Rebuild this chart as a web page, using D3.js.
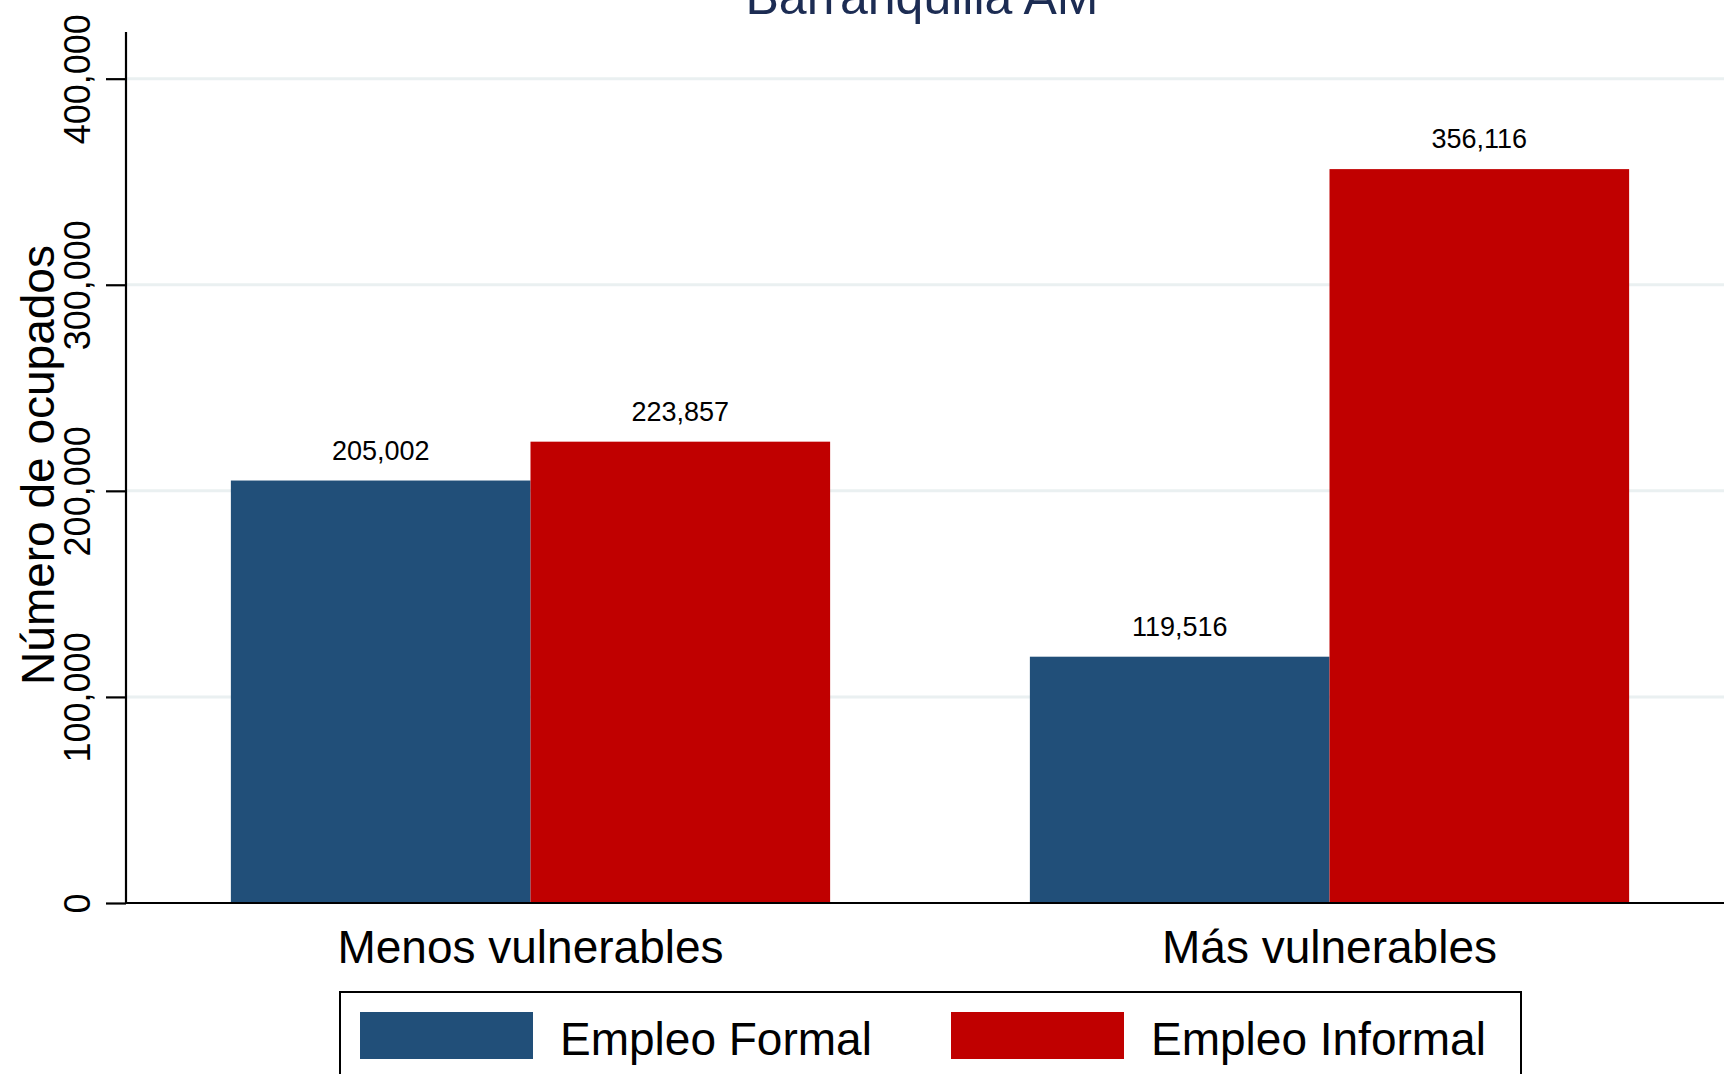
<!DOCTYPE html>
<html>
<head>
<meta charset="utf-8">
<script src="https://cdn.jsdelivr.net/npm/d3@7"></script>
<style>
  html, body { margin: 0; padding: 0; background: #fff; overflow: hidden; }
  svg { display: block; font-family: "Liberation Sans", Arial, Helvetica, sans-serif; }
</style>
</head>
<body>
<svg id="chart" width="1724" height="1074"></svg>
<script>
const title = "Barranquilla AM";
const yTitle = "Número de ocupados";
const categories = ["Menos vulnerables", "Más vulnerables"];
const seriesNames = ["Empleo Formal", "Empleo Informal"];
const formal = [205002, 119516];
const informal = [223857, 356116];
const yTicks = [0, 100000, 200000, 300000, 400000];
const colors = ["#214f79", "#c00000"];

const svg = d3.select("#chart");
const W = 1724, H = 1074;

const y = d3.scaleLinear().domain([0, 422650]).range([903, 32]);
const x0 = d3.scaleBand().domain(categories).range([131, 1729]).paddingInner(0.25).paddingOuter(0.125);
const x1 = d3.scaleBand().domain(seriesNames).range([0, x0.bandwidth()]);
const fmt = d3.format(",");
const axisX = 126;

// gridlines
svg.append("g").selectAll("line").data(yTicks.filter(d => d > 0)).join("line")
  .attr("x1", axisX).attr("x2", W)
  .attr("y1", d => y(d)).attr("y2", d => y(d))
  .attr("stroke", "#eaf0f1").attr("stroke-width", 3);

// bars
const rows = categories.map((c, i) => ({ cat: c, vals: [formal[i], informal[i]] }));
const groups = svg.append("g").selectAll("g").data(rows).join("g")
  .attr("transform", d => `translate(${x0(d.cat)},0)`);
groups.selectAll("rect").data(d => d.vals.map((v, j) => ({ name: seriesNames[j], v, j }))).join("rect")
  .attr("x", d => x1(d.name))
  .attr("width", x1.bandwidth())
  .attr("y", d => y(d.v))
  .attr("height", d => y(0) - y(d.v))
  .attr("fill", d => colors[d.j]);
groups.selectAll("text").data(d => d.vals.map((v, j) => ({ name: seriesNames[j], v, j }))).join("text")
  .attr("x", d => x1(d.name) + x1.bandwidth() / 2)
  .attr("y", d => y(d.v) - 21)
  .attr("text-anchor", "middle")
  .attr("font-size", 27)
  .attr("fill", "#000")
  .text(d => fmt(d.v));

// y axis
const yAxis = d3.axisLeft(y).tickValues(yTicks).tickSize(20).tickFormat(fmt);
const gy = svg.append("g").attr("transform", `translate(${axisX},0)`).call(yAxis);
gy.select(".domain").attr("stroke", "#000").attr("stroke-width", 2.2)
  .attr("d", `M0,${y.range()[1]}V${y(0)}`);
gy.selectAll(".tick line").attr("stroke", "#000").attr("stroke-width", 2.2);
gy.selectAll(".tick text")
  .attr("x", null).attr("dy", null)
  .attr("transform", "translate(-36,0) rotate(-90)")
  .attr("text-anchor", "middle")
  .attr("font-size", 36)
  .attr("font-family", "'Liberation Sans', Arial, sans-serif")
  .attr("fill", "#000");

// baseline
svg.append("line").attr("x1", axisX).attr("x2", W).attr("y1", y(0)).attr("y2", y(0))
  .attr("stroke", "#000").attr("stroke-width", 2.2);

// category labels
svg.append("g").selectAll("text").data(categories).join("text")
  .attr("x", d => x0(d) + x0.bandwidth() / 2)
  .attr("y", 963)
  .attr("text-anchor", "middle")
  .attr("font-size", 46)
  .attr("fill", "#000")
  .text(d => d);

// y title
svg.append("text")
  .attr("transform", `translate(54,465) rotate(-90)`)
  .attr("text-anchor", "middle")
  .attr("font-size", 46)
  .attr("fill", "#000")
  .text(yTitle);

// title
svg.append("text")
  .attr("x", 922).attr("y", 14)
  .attr("text-anchor", "middle")
  .attr("font-size", 50)
  .attr("fill", "#1c2c53")
  .text(title);

// legend
const lg = svg.append("g");
lg.append("rect").attr("x", 340).attr("y", 992).attr("width", 1181).attr("height", 120)
  .attr("fill", "#fff").attr("stroke", "#000").attr("stroke-width", 2);
const legendX = [360, 951];
seriesNames.forEach((s, i) => {
  lg.append("rect").attr("x", legendX[i]).attr("y", 1012).attr("width", 173).attr("height", 47)
    .attr("fill", colors[i]);
  lg.append("text").attr("x", legendX[i] + 200).attr("y", 1055)
    .attr("font-size", 46).attr("fill", "#000").text(s);
});
</script>
</body>
</html>
